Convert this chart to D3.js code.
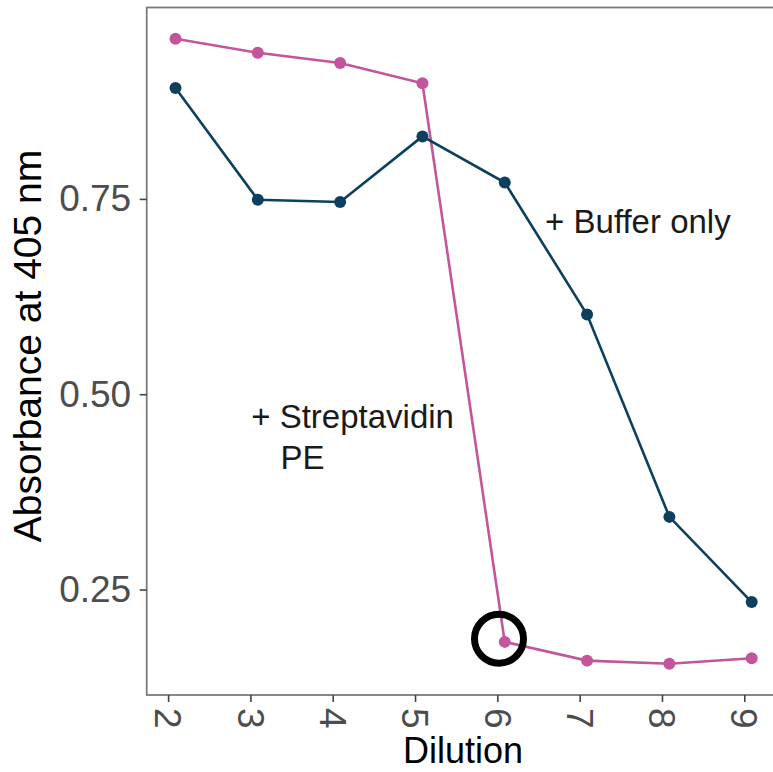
<!DOCTYPE html>
<html>
<head>
<meta charset="utf-8">
<script src="https://cdn.jsdelivr.net/npm/d3@7"></script>
<style>
  html, body { margin: 0; padding: 0; background: #fff; }
  svg { display: block; font-family: "Liberation Sans", Arial, sans-serif; }
</style>
</head>
<body>
<div id="chart"></div>
<script>
// data
const dilution = [2, 3, 4, 5, 6, 7, 8, 9];
const streptavidin = [0.955, 0.937, 0.924, 0.898, 0.183, 0.159, 0.155, 0.162];
const bufferOnly = [0.892, 0.749, 0.746, 0.830, 0.771, 0.602, 0.343, 0.234];
const xTicks = [2, 3, 4, 5, 6, 7, 8, 9];
const yTicks = [0.25, 0.50, 0.75];
const xNudge = 0.09; // points sit a little right of the ticks
const circled = { x: 6.02, y: 0.187 };

const width = 773, height = 772;
const panel = { l: 146.7, r: 780.5, t: 7.5, b: 695 };

const svg = d3.select('#chart').append('svg')
  .attr('width', width).attr('height', height)
  .attr('viewBox', [0, 0, width, height]);

const xs = dilution.map(d => d + xNudge);
const xPad = (d3.max(xs) - d3.min(xs)) * 0.05;
const x = d3.scaleLinear().domain([d3.min(xs) - xPad, d3.max(xs) + xPad]).range([panel.l, panel.r]);
const allY = streptavidin.concat(bufferOnly);
const yPad = (d3.max(allY) - d3.min(allY)) * 0.05;
const y = d3.scaleLinear().domain([d3.min(allY) - yPad, d3.max(allY) + yPad]).range([panel.b, panel.t]);

// panel border (right side runs off the picture)
svg.append('rect')
  .attr('x', panel.l).attr('y', panel.t)
  .attr('width', panel.r - panel.l).attr('height', panel.b - panel.t)
  .attr('fill', 'none').attr('stroke', '#7a7a7a').attr('stroke-width', 1.8);

// axes
const yAxis = svg.append('g').attr('transform', `translate(${panel.l},0)`)
  .call(d3.axisLeft(y).tickValues(yTicks).tickFormat(d3.format('.2f')).tickSize(7).tickPadding(8.5));
yAxis.select('.domain').remove();
yAxis.selectAll('line').attr('stroke', '#444').attr('stroke-width', 1.6);
yAxis.selectAll('text').attr('fill', '#4d4d4d').attr('font-size', 37).attr('font-family', '"Liberation Sans", Arial, sans-serif');

const xAxis = svg.append('g').attr('transform', `translate(0,${panel.b})`)
  .call(d3.axisBottom(x).tickValues(xTicks).tickFormat(d3.format('d')).tickSize(7));
xAxis.select('.domain').remove();
xAxis.selectAll('line').attr('stroke', '#444').attr('stroke-width', 1.6);
xAxis.selectAll('text')
  .attr('fill', '#4d4d4d').attr('font-size', 37).attr('font-family', '"Liberation Sans", Arial, sans-serif')
  .attr('transform', 'rotate(90)')
  .attr('x', 13).attr('y', 0).attr('dy', '0.36em')
  .attr('text-anchor', 'start');

// axis titles
svg.append('text').attr('x', 463).attr('y', 763).attr('text-anchor', 'middle')
  .attr('font-size', 36).attr('fill', '#000').text('Dilution');
svg.append('text').attr('transform', 'translate(41,346) rotate(-90)').attr('text-anchor', 'middle')
  .attr('font-size', 39).attr('fill', '#000').text('Absorbance at 405 nm');

// series
const series = [
  { name: 'Streptavidin PE', values: streptavidin, color: '#c2559b' },
  { name: 'Buffer only', values: bufferOnly, color: '#0d3f5e' }
];
const line = d3.line().x((d, i) => x(xs[i])).y(d => y(d));
series.forEach(s => {
  svg.append('path').attr('d', line(s.values))
    .attr('fill', 'none').attr('stroke', s.color).attr('stroke-width', 2.6);
  svg.append('g').selectAll('circle').data(s.values).join('circle')
    .attr('cx', (d, i) => x(xs[i])).attr('cy', d => y(d)).attr('r', 6)
    .attr('fill', s.color);
});

// annotations
svg.append('circle').attr('cx', x(circled.x)).attr('cy', y(circled.y)).attr('r', 24.5)
  .attr('fill', 'none').attr('stroke', '#000').attr('stroke-width', 7);

const note = svg.append('g').attr('font-size', 33).attr('fill', '#1a1a1a');
note.append('text').attr('x', x(6.58)).attr('y', y(0.706)).text('+ Buffer only');
note.append('text').attr('x', x(3.01)).attr('y', y(0.457)).text('+ Streptavidin');
note.append('text').attr('x', x(3.365)).attr('y', y(0.404)).text('PE');
</script>
</body>
</html>
